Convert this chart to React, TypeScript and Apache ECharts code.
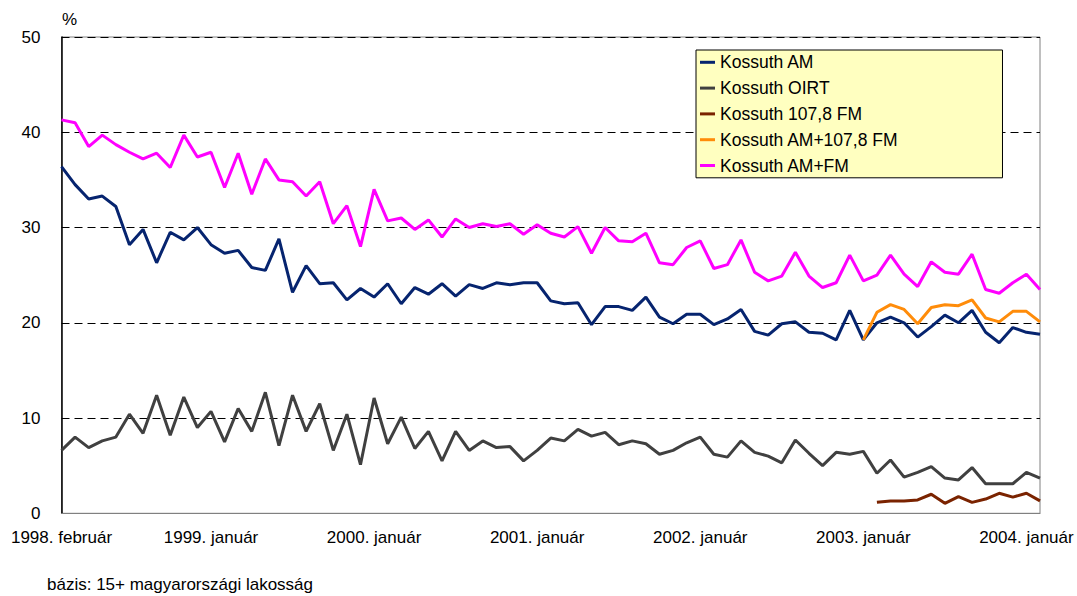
import React, { useEffect, useRef } from "react";
import * as echarts from "echarts";

const monthNames = [
  "január", "február", "március", "április", "május", "június",
  "július", "augusztus", "szeptember", "október", "november", "december",
];

// 1998. február .. 2004. február (73 months)
const startYear = 1998;
const startMonth = 1; // február (0-based)
const monthCount = 73;
const categories: string[] = [];
for (let i = 0; i < monthCount; i++) {
  const m = startMonth + i;
  categories.push(`${startYear + Math.floor(m / 12)}. ${monthNames[m % 12]}`);
}

const yTicks = [0, 10, 20, 30, 40, 50];

const kossuthAM = [
  36.4, 34.5, 33.0, 33.3, 32.2, 28.2, 29.8, 26.3, 29.5, 28.7, 30.0, 28.2,
  27.3, 27.6, 25.8, 25.5, 28.8, 23.2, 26.0, 24.1, 24.2, 22.4, 23.6, 22.7,
  24.1, 22.0, 23.7, 23.0, 24.1, 22.8, 24.0, 23.6, 24.2, 24.0, 24.2, 24.2,
  22.3, 22.0, 22.1, 19.8, 21.7, 21.7, 21.3, 22.7, 20.6, 19.9, 20.9, 20.9,
  19.8, 20.4, 21.4, 19.1, 18.7, 19.9, 20.1, 19.0, 18.9, 18.2, 21.3, 18.2,
  20.0, 20.6, 20.0, 18.5, 19.6, 20.8, 20.0, 21.3, 19.0, 17.9, 19.5, 19.0,
  18.8,
];

const kossuthOIRT = [
  6.6, 8.0, 6.9, 7.6, 8.0, 10.4, 8.4, 12.4, 8.2, 12.2, 9.0, 10.7,
  7.5, 11.0, 8.6, 12.7, 7.1, 12.4, 8.6, 11.5, 6.6, 10.4, 5.1, 12.1,
  7.3, 10.1, 6.8, 8.6, 5.5, 8.6, 6.6, 7.6, 6.9, 7.0, 5.5, 6.6,
  7.9, 7.6, 8.8, 8.1, 8.5, 7.2, 7.6, 7.3, 6.2, 6.6, 7.4, 8.0,
  6.2, 5.9, 7.6, 6.4, 6.0, 5.3, 7.7, 6.3, 5.0, 6.4, 6.2, 6.5,
  4.2, 5.6, 3.8, 4.3, 4.9, 3.7, 3.5, 4.8, 3.1, 3.1, 3.1, 4.3,
  3.7,
];

const kossuthFM1078 = [
  null, null, null, null, null, null, null, null, null, null, null, null,
  null, null, null, null, null, null, null, null, null, null, null, null,
  null, null, null, null, null, null, null, null, null, null, null, null,
  null, null, null, null, null, null, null, null, null, null, null, null,
  null, null, null, null, null, null, null, null, null, null, null, null,
  1.15, 1.3, 1.3, 1.4, 2.0, 1.05, 1.75, 1.15, 1.5, 2.1, 1.7, 2.1,
  1.3,
];

const kossuthAMplus1078 = [
  null, null, null, null, null, null, null, null, null, null, null, null,
  null, null, null, null, null, null, null, null, null, null, null, null,
  null, null, null, null, null, null, null, null, null, null, null, null,
  null, null, null, null, null, null, null, null, null, null, null, null,
  null, null, null, null, null, null, null, null, null, null, null, 18.2,
  21.1, 21.9, 21.4, 19.9, 21.6, 21.9, 21.8, 22.4, 20.5, 20.1, 21.2, 21.2,
  20.1,
];

const kossuthAMFM = [
  41.3, 41.0, 38.5, 39.7, 38.7, 37.9, 37.2, 37.8, 36.3, 39.7, 37.4, 37.9,
  34.2, 37.8, 33.5, 37.2, 35.0, 34.8, 33.3, 34.8, 30.4, 32.3, 28.0, 34.0,
  30.7, 31.0, 29.8, 30.8, 29.0, 30.9, 30.0, 30.4, 30.1, 30.4, 29.3, 30.3,
  29.4, 29.0, 30.1, 27.3, 30.0, 28.6, 28.5, 29.4, 26.3, 26.1, 27.9, 28.6,
  25.7, 26.1, 28.7, 25.3, 24.4, 24.9, 27.4, 24.9, 23.7, 24.2, 27.1, 24.4,
  25.0, 27.1, 25.1, 23.8, 26.4, 25.3, 25.1, 27.2, 23.5, 23.1, 24.2, 25.1,
  23.5,
];

const seriesNames = [
  "Kossuth AM",
  "Kossuth OIRT",
  "Kossuth 107,8 FM",
  "Kossuth AM+107,8 FM",
  "Kossuth AM+FM",
];
const seriesData = [kossuthAM, kossuthOIRT, kossuthFM1078, kossuthAMplus1078, kossuthAMFM];
const seriesColors = ["#06246F", "#404040", "#7A2300", "#FF8C0A", "#FF00FF"];

const FONT = "Liberation Sans, Arial, sans-serif";

export default function App() {
  const ref = useRef<HTMLDivElement>(null);

  useEffect(() => {
    if (!ref.current) return;
    const chart = echarts.init(ref.current, null, { renderer: "svg" });
    chart.setOption({
      animation: false,
      backgroundColor: "#ffffff",
      textStyle: { fontFamily: FONT },
      grid: {
        left: 61.5,
        right: 37,
        top: 37,
        bottom: 82.7,
        show: true,
        borderColor: "#808080",
        borderWidth: 1,
      },
      legend: {
        orient: "vertical",
        left: 696,
        top: 50,
        padding: [2.3, 104, 2.3, 4],
        itemGap: 5.8,
        itemWidth: 15,
        itemHeight: 3,
        icon: "rect",
        backgroundColor: "#FFFFC0",
        borderColor: "#000000",
        borderWidth: 1,
        borderRadius: 0,
        data: seriesNames,
        textStyle: { fontSize: 17.5, lineHeight: 20, color: "#000", fontFamily: FONT },
      },
      graphic: [
        {
          type: "text",
          left: 62,
          top: 11,
          style: { text: "%", fontSize: 17, fontFamily: FONT, fill: "#000" },
        },
        {
          type: "text",
          left: 47,
          top: 576,
          style: {
            text: "bázis: 15+ magyarországi lakosság",
            fontSize: 17,
            fontFamily: FONT,
            fill: "#000",
          },
        },
      ],
      xAxis: {
        type: "category",
        data: categories,
        boundaryGap: false,
        axisLine: { show: true, lineStyle: { color: "#808080", width: 1 } },
        axisTick: { show: false },
        splitLine: { show: false },
        axisLabel: {
          interval: (idx: number, val: string) => idx === 0 || val.endsWith("január"),
          margin: 16,
          fontSize: 17,
          color: "#000",
          fontFamily: FONT,
        },
      },
      yAxis: {
        type: "value",
        min: yTicks[0],
        max: yTicks[yTicks.length - 1],
        interval: 10,
        axisLine: { show: true, lineStyle: { color: "#000", width: 1.5 } },
        axisTick: { show: false },
        axisLabel: { margin: 21, fontSize: 17, color: "#000", fontFamily: FONT },
        splitLine: {
          show: true,
          lineStyle: { color: "#000", type: [8, 5], width: 1 },
        },
      },
      series: seriesNames.map((name, i) => ({
        name,
        type: "line",
        data: seriesData[i],
        showSymbol: false,
        symbol: "none",
        connectNulls: false,
        color: seriesColors[i],
        lineStyle: { color: seriesColors[i], width: 3 },
      })),
    });
    return () => chart.dispose();
  }, []);

  return (
    <div
      ref={ref}
      style={{ position: "absolute", left: 0, top: 0, width: 1077, height: 596 }}
    />
  );
}
